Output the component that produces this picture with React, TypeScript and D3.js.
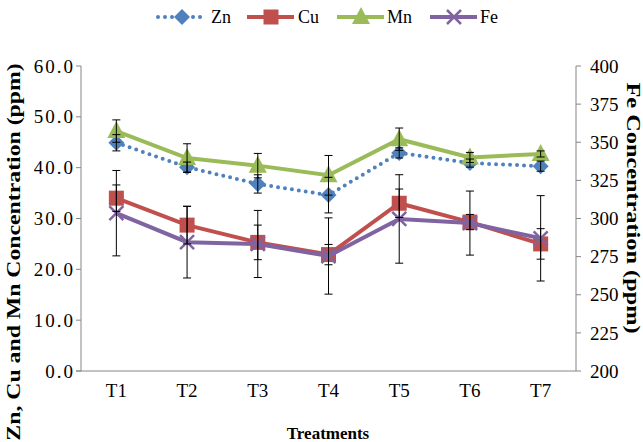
import React from "react";
import * as d3 from "d3";

const treatments = ["T1", "T2", "T3", "T4", "T5", "T6", "T7"];
const zn = [44.9, 40.1, 36.8, 34.6, 42.9, 40.9, 40.3];
const znErr = [1.6, 1.0, 1.8, 3.5, 1.0, 0.8, 1.0];
const cu = [34.0, 28.7, 25.3, 22.9, 33.0, 29.3, 25.0];
const cuErr = [2.6, 3.7, 3.4, 2.0, 2.8, 1.5, 3.0];
const mn = [47.2, 41.9, 40.4, 38.5, 45.6, 42.0, 42.7];
const mnErr = [2.2, 2.8, 2.4, 3.9, 2.2, 1.0, 0.6];
const fe = [303.5, 284.5, 283.3, 275.4, 299.7, 297.0, 287.0];
const feErr = [28, 23.5, 22, 25, 29, 21, 28];
const leftTicks = [0, 10, 20, 30, 40, 50, 60];
const rightTicks = [200, 225, 250, 275, 300, 325, 350, 375, 400];

const W = 643;
const H = 442;
const left = 81;
const right = 576;
const top = 66;
const bottom = 371;
const serif = "'Liberation Serif', 'DejaVu Serif', serif";
const axisColor = "#868686";

const colors = { zn: "#4F81BD", cu: "#C0504D", mn: "#9BBB59", fe: "#8064A2" };

function Marker({ type, x, y, color }: { type: string; x: number; y: number; color: string }) {
  if (type === "diamond") {
    const s = 8;
    return <path d={`M${x},${y - s}L${x + s},${y}L${x},${y + s}L${x - s},${y}Z`} fill={color} />;
  }
  if (type === "square") {
    const s = 7.5;
    return <rect x={x - s} y={y - s} width={2 * s} height={2 * s} fill={color} />;
  }
  if (type === "triangle") {
    return <path d={`M${x},${y - 10}L${x + 9},${y + 7}L${x - 9},${y + 7}Z`} fill={color} />;
  }
  const s = 7;
  return (
    <path d={`M${x - s},${y - s}L${x + s},${y + s}M${x - s},${y + s}L${x + s},${y - s}`} stroke={color} strokeWidth={2.5} />
  );
}

export default function App() {
  const x = d3.scalePoint<string>().domain(treatments).range([left, right]).padding(0.5);
  const yL = d3.scaleLinear().domain([0, 60]).range([bottom, top]);
  const yR = d3.scaleLinear().domain([200, 400]).range([bottom, top]);

  const series = [
    { key: "zn", name: "Zn", vals: zn, err: znErr, y: yL, marker: "diamond", dash: "0 7" },
    { key: "cu", name: "Cu", vals: cu, err: cuErr, y: yL, marker: "square", dash: "" },
    { key: "mn", name: "Mn", vals: mn, err: mnErr, y: yL, marker: "triangle", dash: "" },
    { key: "fe", name: "Fe", vals: fe, err: feErr, y: yR, marker: "x", dash: "" },
  ];

  const legendPos = [
    { lx: 158, tx: 211 },
    { lx: 247, tx: 298 },
    { lx: 337, tx: 387 },
    { lx: 430, tx: 480 },
  ];

  const txt = { fontFamily: serif, fontWeight: 400 } as React.CSSProperties;

  return (
    <svg width={W} height={H} style={{ position: "absolute", left: 0, top: 0, background: "#fff" }}>
      {/* axes */}
      <line x1={left} x2={left} y1={top} y2={bottom} stroke={axisColor} />
      <line x1={right} x2={right} y1={top} y2={bottom} stroke={axisColor} />
      <line x1={left - 5} x2={right} y1={bottom} y2={bottom} stroke={axisColor} />
      {leftTicks.map(t => (
        <g key={"l" + t}>
          <line x1={left - 5} x2={left} y1={yL(t)} y2={yL(t)} stroke={axisColor} />
          <text x={left - 6} y={yL(t)} dy="0.35em" textAnchor="end" style={txt} fontSize={19} letterSpacing={2}>
            {t.toFixed(1)}
          </text>
        </g>
      ))}
      {rightTicks.map(t => (
        <g key={"r" + t}>
          <line x1={right} x2={right + 5} y1={yR(t)} y2={yR(t)} stroke={axisColor} />
          <text x={right + 14} y={yR(t)} dy="0.35em" style={txt} fontSize={19}>
            {t}
          </text>
        </g>
      ))}
      {treatments.map(t => (
        <text key={t} x={x(t)} y={bottom + 26} textAnchor="middle" style={txt} fontSize={19}>
          {t}
        </text>
      ))}

      {/* titles */}
      <text transform="translate(20,252) rotate(-90) scale(1.25,1)" textAnchor="middle" fontFamily={serif} fontSize={19} fontWeight="bold">
        Zn, Cu and Mn Concentration (ppm)
      </text>
      <text transform="translate(627,208) rotate(90) scale(1.35,1)" textAnchor="middle" fontFamily={serif} fontSize={18} fontWeight="bold">
        Fe Concentration (ppm)
      </text>
      <text x={328} y={439} textAnchor="middle" fontFamily={serif} fontSize={17} fontWeight="bold">
        Treatments
      </text>

      {/* series */}
      {series.map(s => {
        const c = (colors as any)[s.key];
        const line = d3
          .line<number>()
          .x((_, i) => x(treatments[i]) as number)
          .y(v => s.y(v));
        return (
          <g key={s.key}>
            <path
              d={line(s.vals) || ""}
              fill="none"
              stroke={c}
              strokeWidth={4}
              strokeDasharray={s.dash || undefined}
              strokeLinecap={s.dash ? "round" : "butt"}
            />
            {s.vals.map((v, i) => (
              <Marker key={i} type={s.marker} x={x(treatments[i]) as number} y={s.y(v)} color={c} />
            ))}
          </g>
        );
      })}

      {/* error bars */}
      {series.map(s => (
        <g key={"e" + s.key}>
          {s.vals.map((v, i) => {
            const cx = x(treatments[i]) as number;
            const y1 = s.y(v + s.err[i]);
            const y2 = s.y(v - s.err[i]);
            return (
              <g key={i} stroke="#000" strokeWidth={1}>
                <line x1={cx} x2={cx} y1={y1} y2={y2} />
                <line x1={cx - 4} x2={cx + 4} y1={y1} y2={y1} />
                <line x1={cx - 4} x2={cx + 4} y1={y2} y2={y2} />
              </g>
            );
          })}
        </g>
      ))}

      {/* legend */}
      {series.map((s, i) => {
        const c = (colors as any)[s.key];
        const p = legendPos[i];
        const ly = 17;
        return (
          <g key={"lg" + s.key}>
            <line
              x1={p.lx}
              x2={p.lx + 47}
              y1={ly}
              y2={ly}
              stroke={c}
              strokeWidth={4}
              strokeDasharray={s.dash || undefined}
              strokeLinecap={s.dash ? "round" : "butt"}
            />
            <Marker type={s.marker} x={p.lx + 24} y={ly} color={c} />
            <text x={p.tx} y={ly} dy="0.35em" style={txt} fontSize={18}>
              {s.name}
            </text>
          </g>
        );
      })}
    </svg>
  );
}
